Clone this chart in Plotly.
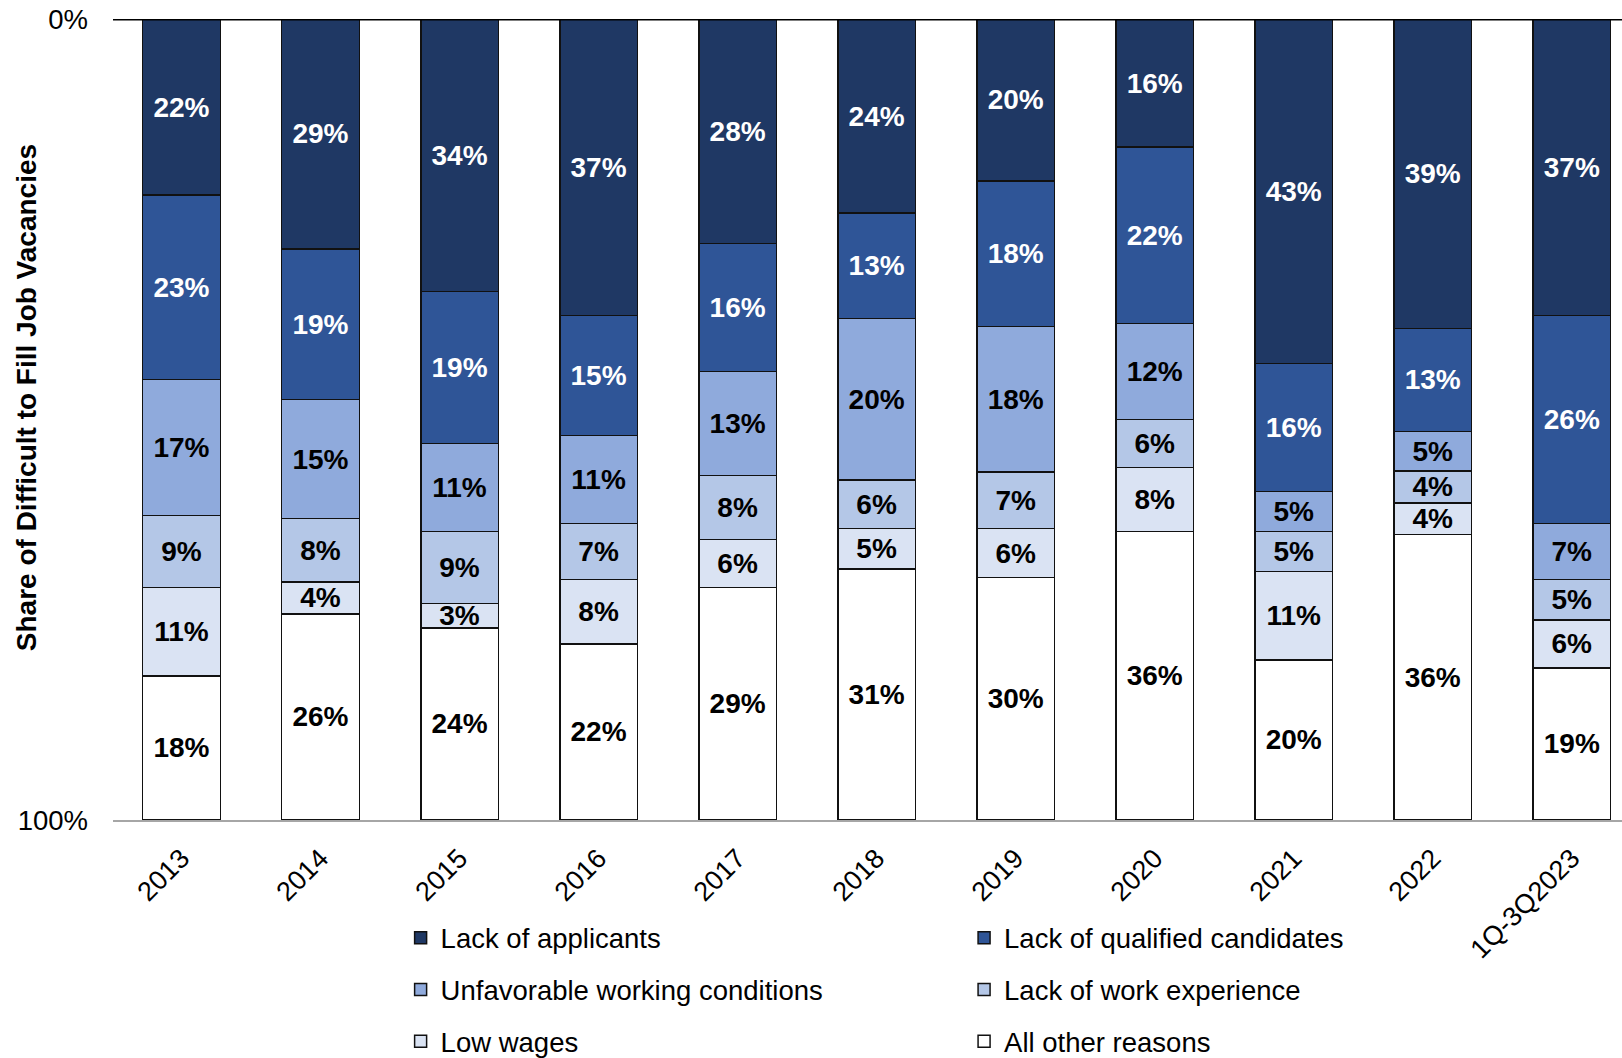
import plotly.graph_objects as go

# Reasons given for difficult-to-fill job vacancies, share of total (%)
periods = ["2013", "2014", "2015", "2016", "2017", "2018", "2019",
           "2020", "2021", "2022", "1Q-3Q2023"]

lack_of_applicants = [22, 29, 34, 37, 28, 24, 20, 16, 43, 39, 37]
lack_of_qualified = [23, 19, 19, 15, 16, 13, 18, 22, 16, 13, 26]
unfavorable_conditions = [17, 15, 11, 11, 13, 20, 18, 12, 5, 5, 7]
lack_of_experience = [9, 8, 9, 7, 8, 6, 7, 6, 5, 4, 5]
low_wages = [11, 4, 3, 8, 6, 5, 6, 8, 11, 4, 6]
other_reasons = [18, 26, 24, 22, 29, 31, 30, 36, 20, 36, 19]

series_names = [
    "Lack of applicants",
    "Lack of qualified candidates",
    "Unfavorable working conditions",
    "Lack of work experience",
    "Low wages",
    "All other reasons",
]
series_values = [lack_of_applicants, lack_of_qualified, unfavorable_conditions,
                 lack_of_experience, low_wages, other_reasons]
fill_colors = ["#1F3864", "#2F5597", "#8FAADC", "#B4C7E7", "#DAE3F3", "#FFFFFF"]
label_colors = ["white", "white", "black", "black", "black", "black"]
legend_ids = ["legend", "legend2", "legend", "legend2", "legend", "legend2"]

FONT = "Liberation Sans, Arial, sans-serif"

fig = go.Figure()
for i, (name, vals) in enumerate(zip(series_names, series_values)):
    fig.add_trace(go.Bar(
        x=periods,
        y=vals,
        name=name,
        legend=legend_ids[i],
        legendgroup=name,
        marker=dict(color=fill_colors[i], line=dict(color="#111111", width=1.5)),
        text=[f"{v}%" for v in vals],
        textposition="inside",
        insidetextanchor="middle",
        textangle=0,
        constraintext="none",
        textfont=dict(family=FONT, size=28, color=label_colors[i], weight="bold"),
        hovertemplate="%{x}<br>" + name + ": %{text}<extra></extra>",
    ))

legend_style = dict(
    orientation="v",
    xanchor="left",
    yanchor="top",
    y=-0.1165,
    font=dict(family=FONT, size=27.5, color="black"),
    tracegroupgap=13,
    bgcolor="rgba(0,0,0,0)",
    traceorder="grouped",
)

fig.update_layout(
    width=1622,
    height=1058,
    margin=dict(l=113, r=0, t=19, b=238, autoexpand=False),
    paper_bgcolor="white",
    plot_bgcolor="white",
    barmode="stack",
    barnorm="percent",
    bargap=0.442,
    font=dict(family=FONT, color="black"),
    showlegend=True,
    legend=dict(x=0.1906, **legend_style),
    legend2=dict(x=0.564, **legend_style),
    xaxis=dict(
        type="category",
        range=[-0.4927, 10.361],
        showgrid=False,
        showline=True,
        linecolor="#A6A6A6",
        linewidth=1.5,
        ticks="",
        tickangle=-45,
        ticklabelstandoff=10,
        tickfont=dict(family=FONT, size=27, color="black"),
    ),
    yaxis=dict(
        range=[100, 0],
        tickvals=[0, 100],
        ticktext=["0%", "100%"],
        showgrid=False,
        zeroline=False,
        showline=False,
        ticks="",
        ticklabelstandoff=24,
        tickfont=dict(family=FONT, size=27.5, color="black"),
    ),
    shapes=[dict(
        type="line", xref="paper", yref="y",
        x0=0, x1=1, y0=0, y1=0,
        line=dict(color="black", width=3),
        layer="above",
    )],
    annotations=[dict(
        text="<b>Share of Difficult to Fill Job Vacancies</b>",
        xref="paper", yref="paper",
        x=-0.0577, y=0.5278,
        xanchor="center", yanchor="middle",
        textangle=-90,
        showarrow=False,
        font=dict(family=FONT, size=28, color="black"),
    )],
)

fig.write_html("out.html")
